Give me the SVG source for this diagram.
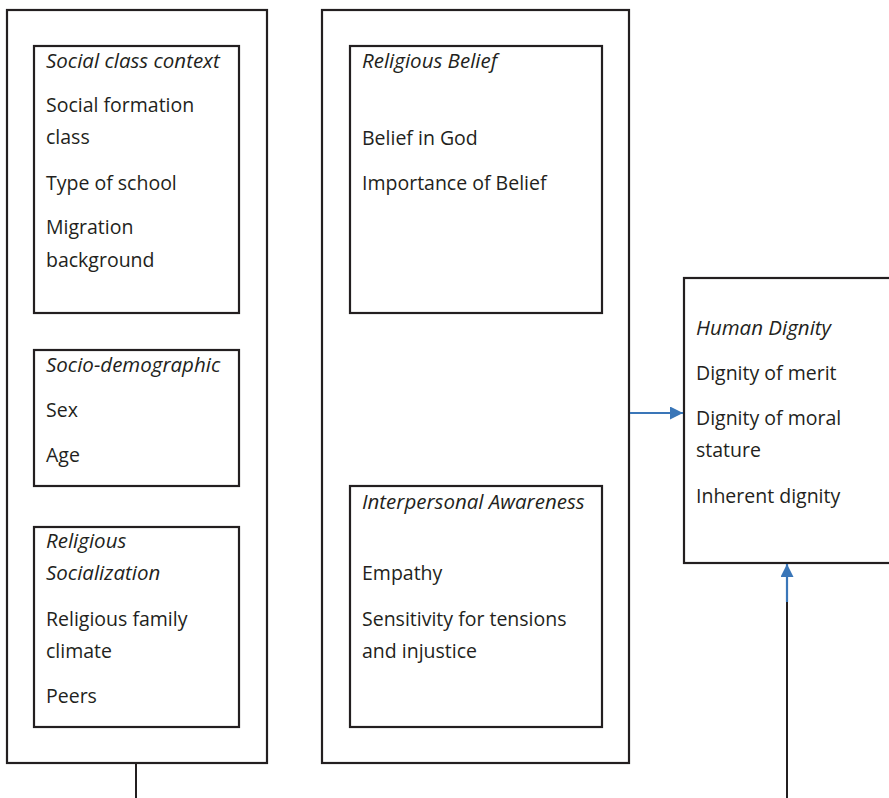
<svg xmlns="http://www.w3.org/2000/svg" width="889" height="798" viewBox="0 0 889 798">
<defs>
<style>
.box{fill:none;stroke:#231f20;stroke-width:2.2}
.inner{fill:#fff;stroke:#231f20;stroke-width:2.2}
text{font-family:"Open Sans","Noto Sans","Liberation Sans",sans-serif;font-size:19.5px;fill:#231f20}
.h{font-style:italic;font-size:20.5px}
.line{fill:none;stroke:#231f20;stroke-width:2}
.blue{fill:none;stroke:#3a76b8;stroke-width:2.2}
</style>
<marker id="ah" markerUnits="userSpaceOnUse" markerWidth="14" markerHeight="14" refX="13" refY="6.5" orient="auto">
<path d="M0,0 L13,6.5 L0,13 Z" fill="#3a76b8"/>
</marker>
</defs>
<rect width="889" height="798" fill="#fff"/>

<g id="left-group">
<rect class="box" x="7" y="10" width="260" height="753"/>
<g id="social-class-context">
<rect class="inner" x="34" y="46" width="205" height="267"/>
<text class="h" x="46" y="68">Social class context</text>
<text x="46" y="112">Social formation</text>
<text x="46" y="144">class</text>
<text x="46" y="190">Type of school</text>
<text x="46" y="234">Migration</text>
<text x="46" y="267">background</text>
</g>
<g id="socio-demographic">
<rect class="inner" x="34" y="350" width="205" height="136"/>
<text class="h" x="46" y="372">Socio-demographic</text>
<text x="46" y="417">Sex</text>
<text x="46" y="462">Age</text>
</g>
<g id="religious-socialization">
<rect class="inner" x="34" y="527" width="205" height="200"/>
<text class="h" x="46" y="548">Religious</text>
<text class="h" x="46" y="580">Socialization</text>
<text x="46" y="626">Religious family</text>
<text x="46" y="658">climate</text>
<text x="46" y="703">Peers</text>
</g>
</g>

<g id="middle-group">
<rect class="box" x="322" y="10" width="307" height="753"/>
<g id="religious-belief">
<rect class="inner" x="350" y="46" width="252" height="267"/>
<text class="h" x="362" y="68">Religious Belief</text>
<text x="362" y="145">Belief in God</text>
<text x="362" y="190">Importance of Belief</text>
</g>
<g id="interpersonal-awareness">
<rect class="inner" x="350" y="486" width="252" height="241"/>
<text class="h" x="362" y="509">Interpersonal Awareness</text>
<text x="362" y="580">Empathy</text>
<text x="362" y="626">Sensitivity for tensions</text>
<text x="362" y="658">and injustice</text>
</g>
</g>

<g id="human-dignity">
<rect class="inner" x="684" y="278" width="230" height="285"/>
<text class="h" x="696" y="335">Human Dignity</text>
<text x="696" y="380">Dignity of merit</text>
<text x="696" y="425">Dignity of moral</text>
<text x="696" y="457">stature</text>
<text x="696" y="503">Inherent dignity</text>
</g>

<g id="connectors">
<line class="blue" x1="630" y1="413" x2="683" y2="413" marker-end="url(#ah)"/>
<line class="line" x1="136" y1="764" x2="136" y2="798"/>
<line class="line" x1="787" y1="798" x2="787" y2="600"/>
<line class="blue" x1="787" y1="602" x2="787" y2="564" marker-end="url(#ah)"/>
</g>
</svg>
